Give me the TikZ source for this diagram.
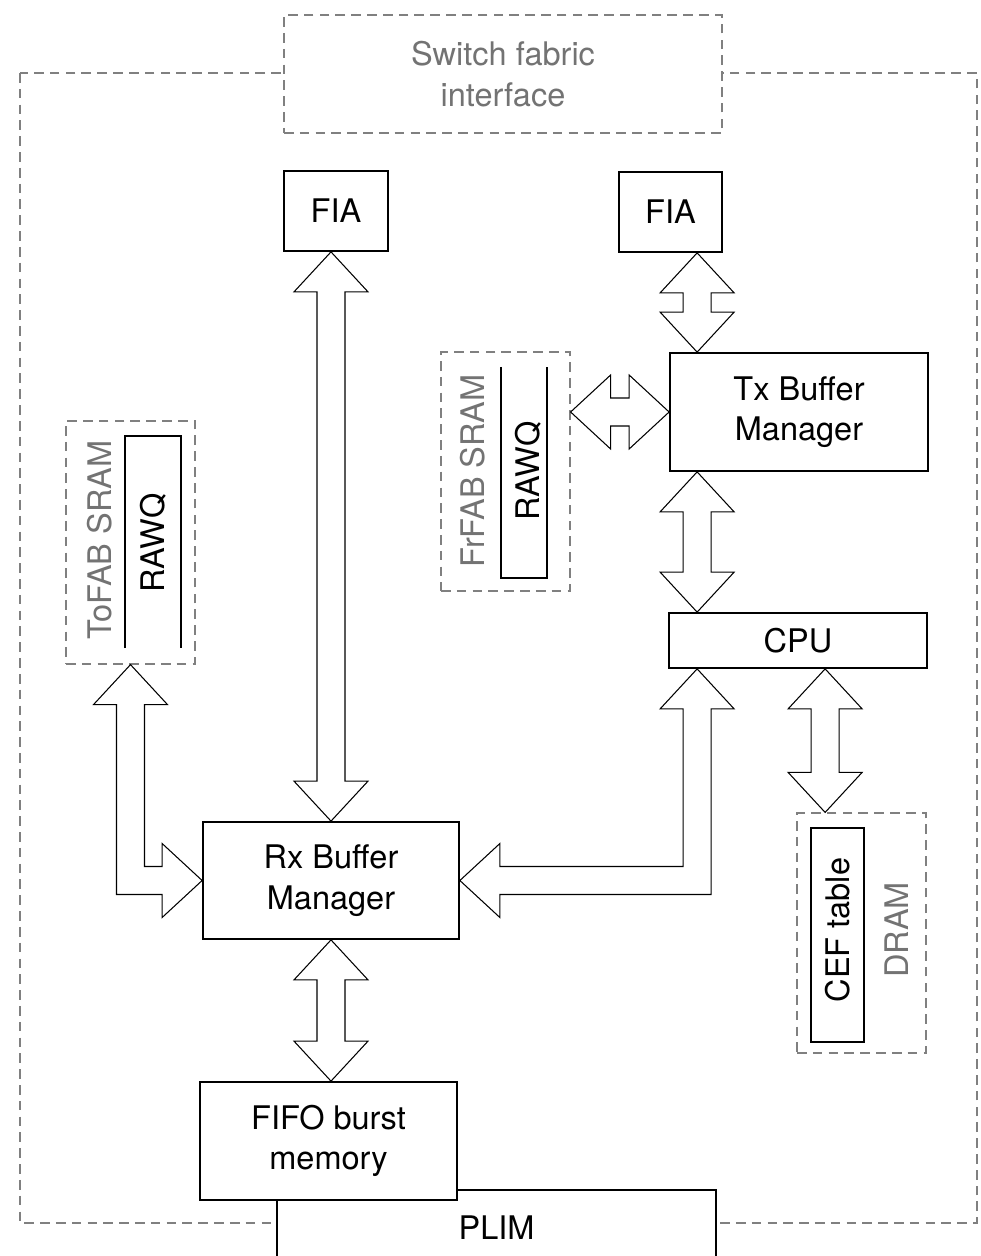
\documentclass[tikz,border=0pt]{standalone}
\usepackage{fontspec}
\setmainfont{TeX Gyre Heros}
\usetikzlibrary{positioning,calc,fit}

% fat double-headed buses (pixel units, y downwards)
\newcommand\vbus[2]{\draw[bus] (#1) -- ++(37,40) -- ++(-23,0) -- ($(#2)+(14,-40)$) -- ++(23,0)
  -- (#2) -- ++(-37,-40) -- ++(23,0) -- ($(#1)+(-14,40)$) -- ++(-23,0) -- cycle;}
\newcommand\hbus[2]{\draw[bus] (#1) -- ++(40,-37) -- ++(0,23) -- ($(#2)+(-40,-14)$) -- ++(0,-23)
  -- (#2) -- ++(-40,37) -- ++(0,-23) -- ($(#1)+(40,14)$) -- ++(0,23) -- cycle;}

\begin{document}
\begin{tikzpicture}[x=0.02cm, y=-0.02cm, font=\fontsize{18.5}{23}\selectfont,
  box/.style={draw, line width=1pt, fill=white, inner sep=0pt},
  zone/.style={draw=black!50, line width=0.7pt, dash pattern=on 5.5pt off 3.5pt,
    fill=white, inner sep=0pt},
  txt/.style={label={[align=center]center:#1}},
  faint/.style={text=black!55},
  bus/.style={draw, line width=0.6pt, fill=white, line join=miter}]
\useasboundingbox (0,0) rectangle (980,1256);
% line card outline
\draw[black!50, line width=0.7pt, dash pattern=on 5.5pt off 3.5pt] (20,73) rectangle (977,1223);
\node[zone, fit={(284,15) (722,133)}, label={[align=center, faint]center:Switch fabric\\interface}] (sfi) {};
% main blocks
\node[box, fit={(284,171) (388,251)}, txt=FIA] (fiaL) {};
\node[box, fit={(619,172) (722,252)}, txt=FIA] (fiaR) {};
\node[box, fit={(670,353) (928,471)}, txt={Tx Buffer\\Manager}] (txbm) {};
\node[box, fit={(669,613) (927,668)}, txt=CPU] (cpu) {};
\node[box, fit={(203,822) (459,939)}, txt={Rx Buffer\\Manager}] (rxbm) {};
\node[box, fit={(277,1190) (716,1266)}, txt=PLIM] (plim) {};
\node[box, fit={(200,1082) (457,1200)}, txt={FIFO burst\\memory}] (fifo) {};
% memories
\node[zone, fit={(66,421) (195,664)}] (tofab) {};
\draw[line width=1pt] (125,648) |- (181,436) -- (181,648);
\node[faint, rotate=90] (tofabLbl) at (100,540) {ToFAB SRAM};
\node[rotate=90] (rawqTo) at (153,543) {RAWQ};
\node[zone, fit={(441,352) (570,591)}] (frfab) {};
\draw[line width=1pt] (501,367) |- (547,578) -- (547,367);
\node[faint, rotate=90] (frfabLbl) at (473,471) {FrFAB SRAM};
\node[rotate=90] (rawqFr) at (528,471) {RAWQ};
\node[zone, fit={(797,813) (926,1053)}] (dram) {};
\node[box, fit={(811,828) (864,1042)}] (cef) {};
\node[rotate=90] (cefLbl) at (838,930) {CEF table};
\node[faint, rotate=90] (dramLbl) at (897,930) {DRAM};
% buses
\coordinate (txbus) at ($(txbm.north west)+(28,0)$);
\coordinate (cefbus) at ($(cef.north west)+(15,0)$);
\vbus{rxbm.north |- fiaL.south}{rxbm.north}
\vbus{txbus |- fiaR.south}{txbus}
\hbus{frfab.east |- txbm.west}{txbm.west}
\vbus{txbus |- txbm.south}{txbus |- cpu.north}
\vbus{cefbus |- cpu.south}{cefbus |- dram.north}
\vbus{rxbm.south}{rxbm.south |- fifo.north}
\draw[bus] (tofab.south) -- ++(37,40) -- ++(-23,0) -- ($(tofab.south |- rxbm.west)+(14,-14)$)
  -- ($(rxbm.west)+(-40,-14)$) -- ++(0,-23) -- (rxbm.west) -- ++(-40,37) -- ++(0,-23)
  -- ($(tofab.south |- rxbm.west)+(-14,14)$) -- ($(tofab.south)+(-14,40)$) -- ++(-23,0) -- cycle;
\draw[bus] (txbus |- cpu.south) -- ++(37,40) -- ++(-23,0) -- ($(txbus |- rxbm.east)+(14,14)$)
  -- ($(rxbm.east)+(40,14)$) -- ++(0,23) -- (rxbm.east) -- ++(40,-37) -- ++(0,23)
  -- ($(txbus |- rxbm.east)+(-14,-14)$) -- ($(txbus |- cpu.south)+(-14,40)$) -- ++(-23,0) -- cycle;
\end{tikzpicture}
\end{document}
